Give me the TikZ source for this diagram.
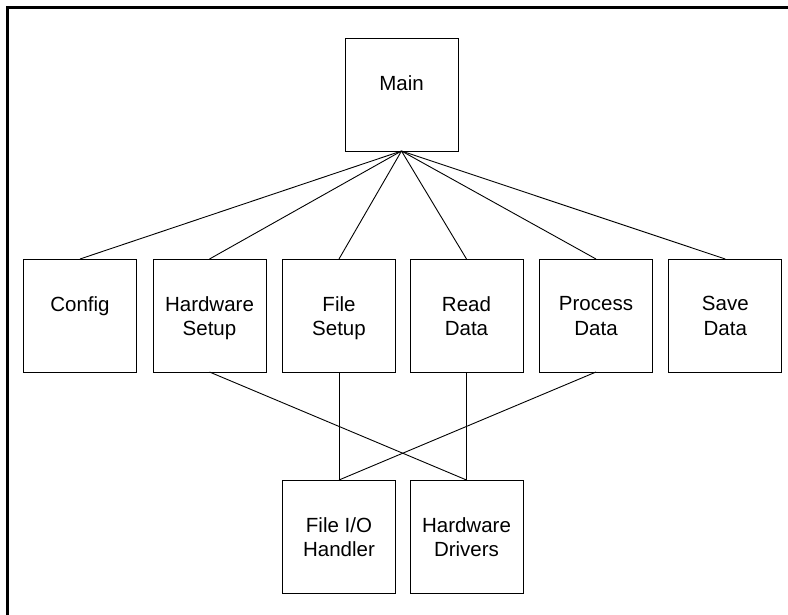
\documentclass[tikz,border=0pt]{standalone}
\usepackage{fontspec}
\setmainfont{Liberation Sans}
\usetikzlibrary{positioning}

\begin{document}
\begin{tikzpicture}[
    x=1pt, y=-1pt,
    every node/.style={
        inner sep=0pt,
        outer sep=0pt,
    },
    module/.style={
        draw=black, rectangle,
        line width=.9pt,
        minimum size=113pt,
    },
    caption/.style={
        align=center,
        font=\fontsize{20.5}{24.5}\selectfont,
        anchor=north,
    },
    link/.style={
        line width=.9pt,
    },
    frame/.style={
        line width=2.5pt,
    },
]
    % ~~~ one box, text hung from its top edge ~~~~~~~~~~~~~~~~~~~~
    \newcommand\modbox[3]{%
        \node[module] (#1) at (#2) {};
        \node[caption,below=37.5pt of #1.north] (#1-txt) {#3}}

    \useasboundingbox (0,0) rectangle (788,615);

    % ~~~ frame, only top and left edge are seen ~~~~~~~~~~~~~~~~~~
    \coordinate (frame-bl) at (7.7,615);
    \coordinate (frame-tr) at (788,7.5);
    \draw[frame] (frame-bl) |- (frame-tr);

    % ~~~ modules ~~~~~~~~~~~~~~~~~~~~~~~~~~~~~~~~~~~~~~~~~~~~~~~~~
    \modbox{main}{401.5,94.5}{Main};
    \foreach \n/\x/\t in {%
        config/80/Config,
        hwsetup/209.5/Hardware\\Setup,
        filesetup/339/File\\Setup,
        readdata/466.5/Read\\Data,
        procdata/596/Process\\Data,
        savedata/725.3/Save\\Data%no comma after
    }{
        \modbox{\n}{\x,315.5}{\t};
    }
    \modbox{fileio}{339,536.5}{File I/O\\Handler};
    \modbox{hwdrivers}{466.5,536.5}{Hardware\\Drivers};

    % ~~~ calls ~~~~~~~~~~~~~~~~~~~~~~~~~~~~~~~~~~~~~~~~~~~~~~~~~~~
    \foreach \n in {config,hwsetup,filesetup,readdata,procdata,savedata}
        \draw[link] (main.south) -- (\n.north);
    \foreach \a/\b in {%
        hwsetup/hwdrivers,
        filesetup/fileio,
        readdata/hwdrivers,
        procdata/fileio%
    }{
        \draw[link] (\a.south) -- (\b.north);
    }
\end{tikzpicture}
\end{document}
